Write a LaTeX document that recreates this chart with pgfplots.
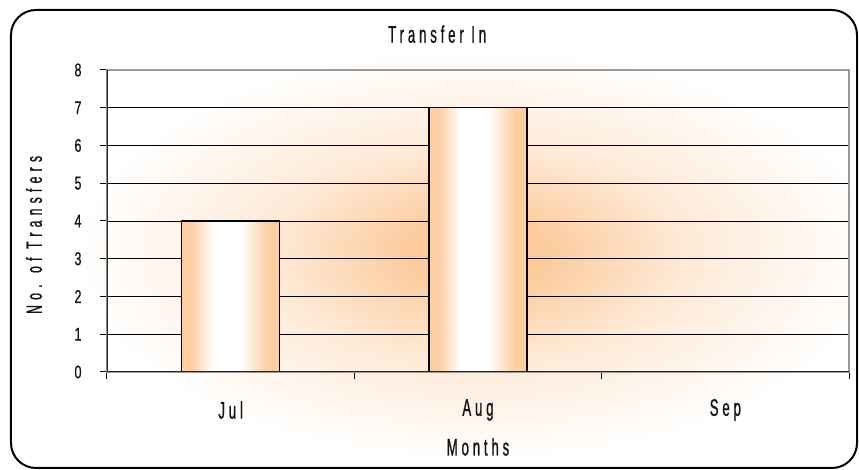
\documentclass[border=0pt]{standalone}
\usepackage{pgfplots}
\pgfplotsset{compat=1.18}
\usepackage{fontspec}
\setmainfont[FakeStretch=0.55, LetterSpace=16, FakeBold=0.8]{Liberation Sans}
\newfontfamily\numf[FakeStretch=0.68, LetterSpace=0, FakeBold=0.6]{Liberation Sans}
\newfontfamily\ylabf[FakeStretch=0.55, LetterSpace=24, FakeBold=0.8]{Liberation Sans}
\definecolor{glow}{RGB}{252,202,155}
\definecolor{barO}{RGB}{253,206,162}
\definecolor{txt}{RGB}{20,20,20}
\pgfdeclarehorizontalshading{barshade}{100bp}{color(0bp)=(barO); color(30bp)=(barO); color(41bp)=(white); color(55bp)=(white); color(69bp)=(barO); color(100bp)=(barO)}
\pgfdeclareradialshading{glowshade}{\pgfpoint{0bp}{0bp}}{color(0bp)=(glow); color(4bp)=(glow); color(13bp)=(glow!40!white); color(25bp)=(white); color(50bp)=(white)}
\pgfplotsset{barstyle/.style={ybar, bar width=98bp, bar shift=0pt, draw=black, line width=1.4bp, shade, shading=barshade}}
\begin{document}
\fontsize{24bp}{28bp}\selectfont
\begin{tikzpicture}[x=1bp,y=1bp]
\useasboundingbox (-107,-98) rectangle (752,372);
\begin{scope}
\clip[rounded corners=25bp] (-96,-96) rectangle (750,362);
\fill[white] (-107,-98) rectangle (752,372);
\shade[shading=glowshade] (371,118) ellipse [x radius=400, y radius=205];
\end{scope}
\draw[line width=2bp, rounded corners=25bp] (-96,-96) rectangle (750,362);
\begin{axis}[
  at={(0,0)}, anchor=south west, scale only axis,
  width=742bp, height=302bp,
  xmin=-0.5, xmax=2.5, ymin=0, ymax=8,
  /pgf/number format/assume math mode=true,
  ytick={0,...,8},
  xtick={-0.5,0.5,1.5,2.5}, xticklabels={},
  extra x ticks={0,1,2}, extra x tick labels={Jul,Aug,Sep},
  extra x tick style={major tick length=0pt, grid=none},
  tick align=outside, xtick pos=lower, ytick pos=left,
  major tick length=7bp,
  tick style={black, line width=1bp},
  ymajorgrids, major grid style={black, line width=0.9bp},
  axis line style={draw=gray!80, line width=1.2bp},
  yticklabel style={anchor=center, xshift=-22bp, text=txt, font=\numf\fontsize{18.5bp}{21bp}\selectfont},
  xticklabel style={anchor=center, yshift=-38bp, text=txt},
  title={Transfer In},
  title style={at={(axis description cs:0.445,1.099)}, anchor=center, text=txt},
  xlabel={Months},
  xlabel style={at={(axis description cs:0.5,-0.248)}, anchor=center, text=txt},
  ylabel={No. of Transfers},
  ylabel style={at={(axis description cs:-0.0984,0.454)}, anchor=center, text=txt, font=\ylabf\fontsize{22bp}{26bp}\selectfont},
]
\addplot[barstyle] coordinates {(0,4)};
\addplot[barstyle] coordinates {(1,7)};
\addplot[barstyle] coordinates {(2,0)};
\draw[black!85, line width=1.5bp] (rel axis cs:0,1) -- (rel axis cs:0,0) -- (rel axis cs:1,0);
\end{axis}
\end{tikzpicture}
\end{document}
